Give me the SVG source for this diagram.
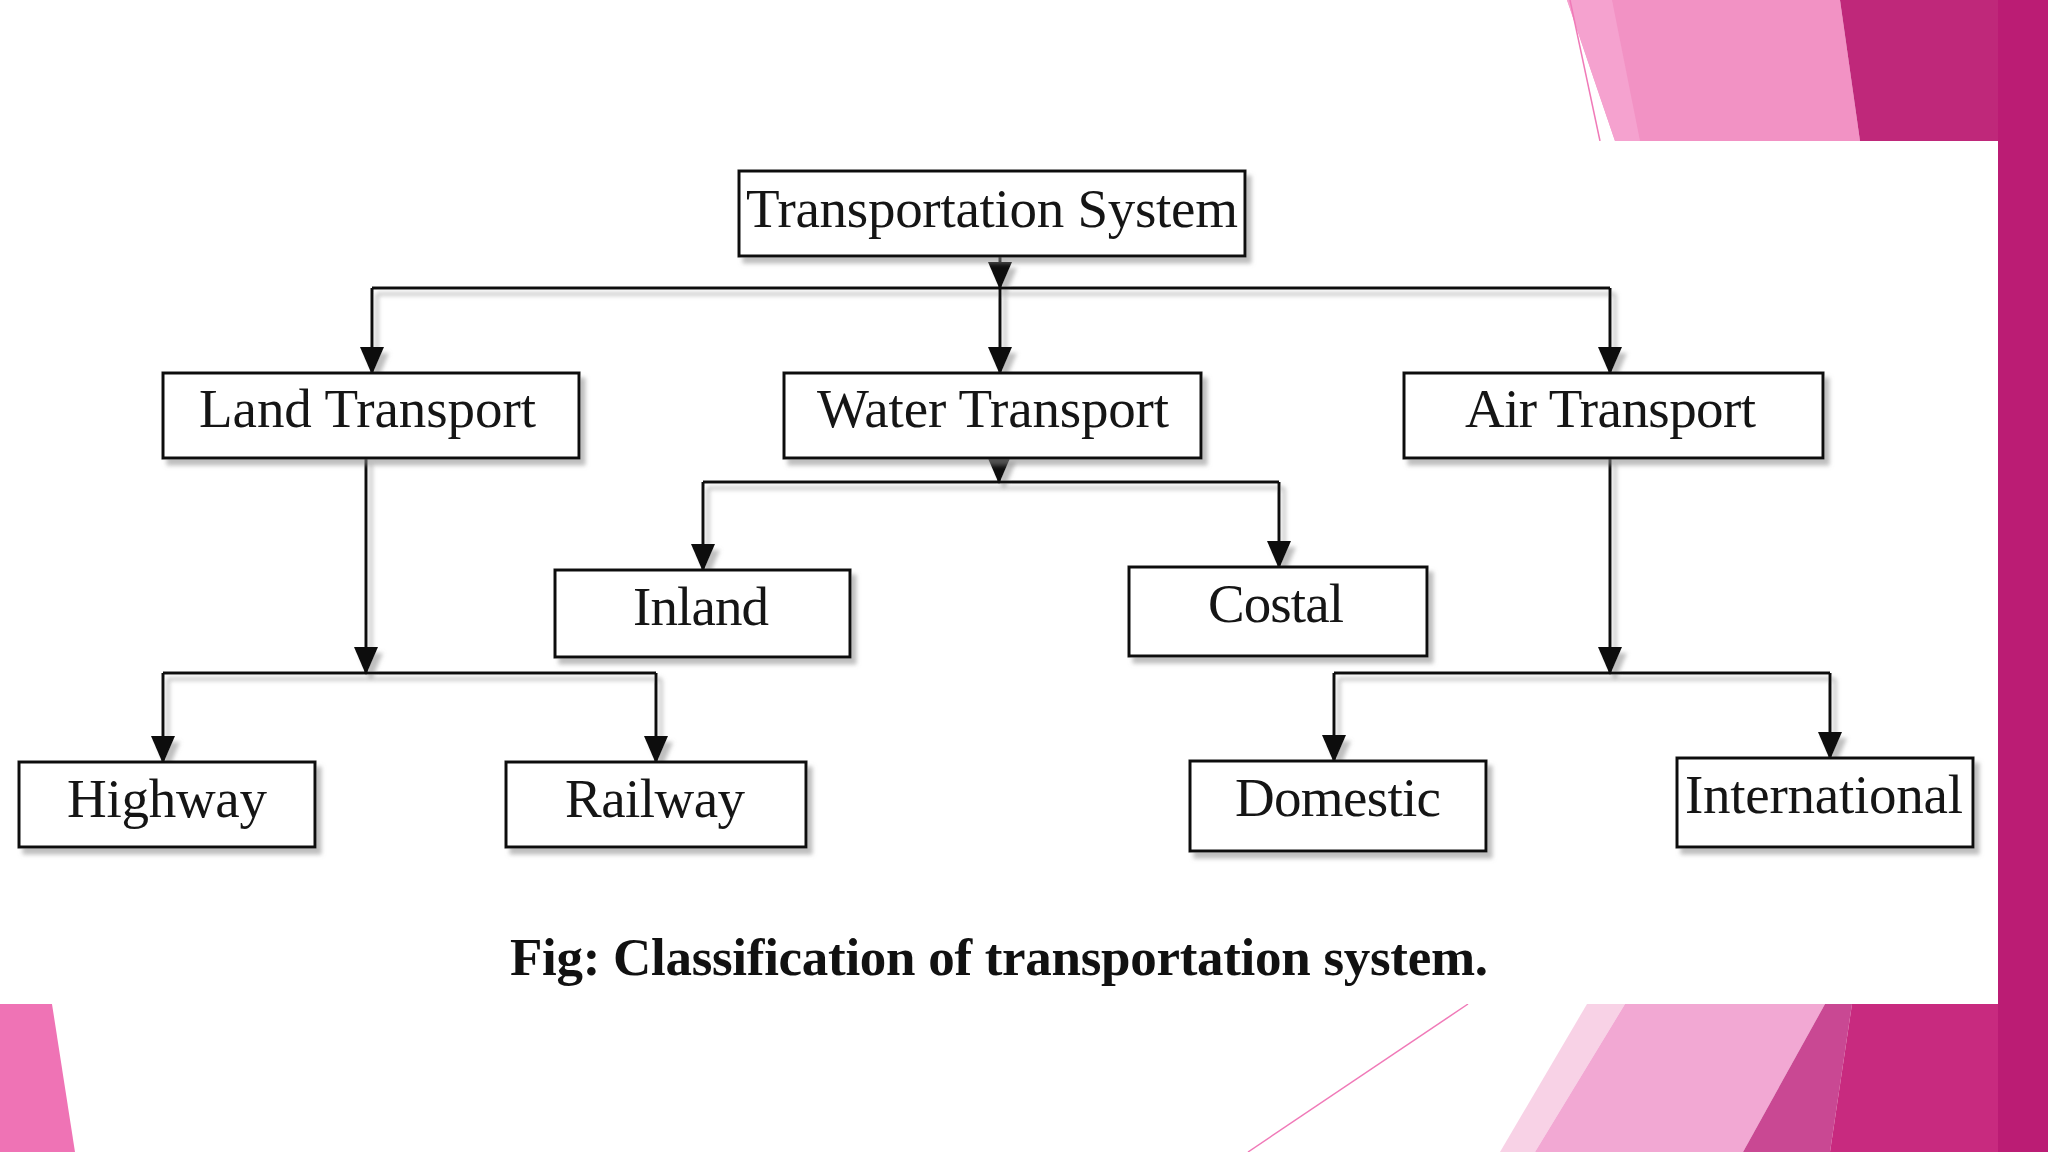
<svg xmlns="http://www.w3.org/2000/svg" width="2048" height="1152" viewBox="0 0 2048 1152">
  <defs>
    <style>
      .box { fill: #ffffff; stroke: #111111; stroke-width: 3; }
      .lbl { font-family: "Liberation Serif", "Times New Roman", serif; font-size: 55px; fill: #151515; }
      .cap { font-family: "Liberation Serif", "Times New Roman", serif; font-size: 53px; font-weight: bold; fill: #111111; }
      .wire { fill: none; stroke: #111111; stroke-width: 3; }
      .arr { fill: none; stroke: #111111; stroke-width: 3; marker-end: url(#ah); }
    </style>
    <marker id="ah" viewBox="0 0 28 24" refX="26" refY="12" markerWidth="28" markerHeight="24" markerUnits="userSpaceOnUse" orient="auto">
      <path d="M0,0 L28,12 L0,24 z" fill="#111111"/>
    </marker>
    <filter id="sh" x="-10%" y="-10%" width="130%" height="140%">
      <feDropShadow dx="5" dy="6" stdDeviation="2" flood-color="#888888" flood-opacity="0.55"/>
    </filter>
  </defs>

  <!-- slide background -->
  <rect x="0" y="0" width="2048" height="1152" fill="#ffffff"/>

  <!-- decorative shapes, top right -->
  <g id="deco-top">
    <polygon points="1567,0 1840,0 1860,141 1615,141" fill="#f292c4"/>
    <polygon points="1567,0 1612,0 1640,141 1615,141" fill="#f5a2cf"/>
    <line x1="1570" y1="0" x2="1600" y2="141" stroke="#f07ab8" stroke-width="1.5"/>
    <polygon points="1840,0 2048,0 2048,141 1860,141" fill="#bf287a"/>
  </g>
  <!-- decorative shapes, bottom -->
  <g id="deco-bottom">
    <polygon points="0,1004 52,1004 75,1152 0,1152" fill="#ef73b5"/>
    <line x1="1468" y1="1004" x2="1248" y2="1152" stroke="#f07ab8" stroke-width="1.5"/>
    <polygon points="1587,1004 1625,1004 1535,1152 1500,1152" fill="#f8d2e6"/>
    <polygon points="1625,1004 1825,1004 1743,1152 1535,1152" fill="#f2a8d3"/>
    <polygon points="1825,1004 1852,1004 1830,1152 1743,1152" fill="#c94893"/>
    <polygon points="1852,1004 2048,1004 2048,1152 1830,1152" fill="#c82a7f"/>
  </g>
  <rect x="1998" y="0" width="50" height="1152" fill="#bb1c74"/>

  <!-- picture area -->
  <rect x="0" y="141" width="1998" height="863" fill="#ffffff"/>

  <!-- connectors -->
  <g id="connectors" filter="url(#sh)">
    <line class="arr" x1="1000" y1="256" x2="1000" y2="288"/>
    <line class="wire" x1="372" y1="288" x2="1610" y2="288"/>
    <line class="arr" x1="372" y1="288" x2="372" y2="373"/>
    <line class="arr" x1="1000" y1="288" x2="1000" y2="373"/>
    <line class="arr" x1="1610" y1="288" x2="1610" y2="373"/>

    <line class="arr" x1="366" y1="458" x2="366" y2="673"/>
    <line class="wire" x1="163" y1="673" x2="656" y2="673"/>
    <line class="arr" x1="163" y1="673" x2="163" y2="762"/>
    <line class="arr" x1="656" y1="673" x2="656" y2="762"/>

    <line class="arr" x1="999" y1="458" x2="999" y2="482"/>
    <line class="wire" x1="703" y1="482" x2="1279" y2="482"/>
    <line class="arr" x1="703" y1="482" x2="703" y2="570"/>
    <line class="arr" x1="1279" y1="482" x2="1279" y2="567"/>

    <line class="arr" x1="1610" y1="458" x2="1610" y2="673"/>
    <line class="wire" x1="1334" y1="673" x2="1830" y2="673"/>
    <line class="arr" x1="1334" y1="673" x2="1334" y2="761"/>
    <line class="arr" x1="1830" y1="673" x2="1830" y2="758"/>
  </g>

  <!-- nodes -->
  <g id="node-transportation-system">
    <rect class="box" x="739" y="171" width="506" height="85" filter="url(#sh)"/>
    <text class="lbl" x="746" y="227" textLength="492">Transportation System</text>
  </g>
  <g id="node-land-transport">
    <rect class="box" x="163" y="373" width="416" height="85" filter="url(#sh)"/>
    <text class="lbl" x="199" y="427" textLength="337">Land Transport</text>
  </g>
  <g id="node-water-transport">
    <rect class="box" x="784" y="373" width="417" height="85" filter="url(#sh)"/>
    <text class="lbl" x="817" y="427" textLength="352">Water Transport</text>
  </g>
  <g id="node-air-transport">
    <rect class="box" x="1404" y="373" width="419" height="85" filter="url(#sh)"/>
    <text class="lbl" x="1465" y="427" textLength="291">Air Transport</text>
  </g>
  <g id="node-inland">
    <rect class="box" x="555" y="570" width="295" height="87" filter="url(#sh)"/>
    <text class="lbl" x="633" y="625" textLength="136">Inland</text>
  </g>
  <g id="node-costal">
    <rect class="box" x="1129" y="567" width="298" height="89" filter="url(#sh)"/>
    <text class="lbl" x="1208" y="622" textLength="136">Costal</text>
  </g>
  <g id="node-highway">
    <rect class="box" x="19" y="762" width="296" height="85" filter="url(#sh)"/>
    <text class="lbl" x="67" y="817" textLength="200">Highway</text>
  </g>
  <g id="node-railway">
    <rect class="box" x="506" y="762" width="300" height="85" filter="url(#sh)"/>
    <text class="lbl" x="565" y="817" textLength="180">Railway</text>
  </g>
  <g id="node-domestic">
    <rect class="box" x="1190" y="761" width="296" height="90" filter="url(#sh)"/>
    <text class="lbl" x="1235" y="816" textLength="206">Domestic</text>
  </g>
  <g id="node-international">
    <rect class="box" x="1677" y="758" width="296" height="89" filter="url(#sh)"/>
    <text class="lbl" x="1685" y="813" textLength="278">International</text>
  </g>

  <g id="caption">
    <text class="cap" x="510" y="975" textLength="978">Fig: Classification of transportation system.</text>
  </g>
</svg>
